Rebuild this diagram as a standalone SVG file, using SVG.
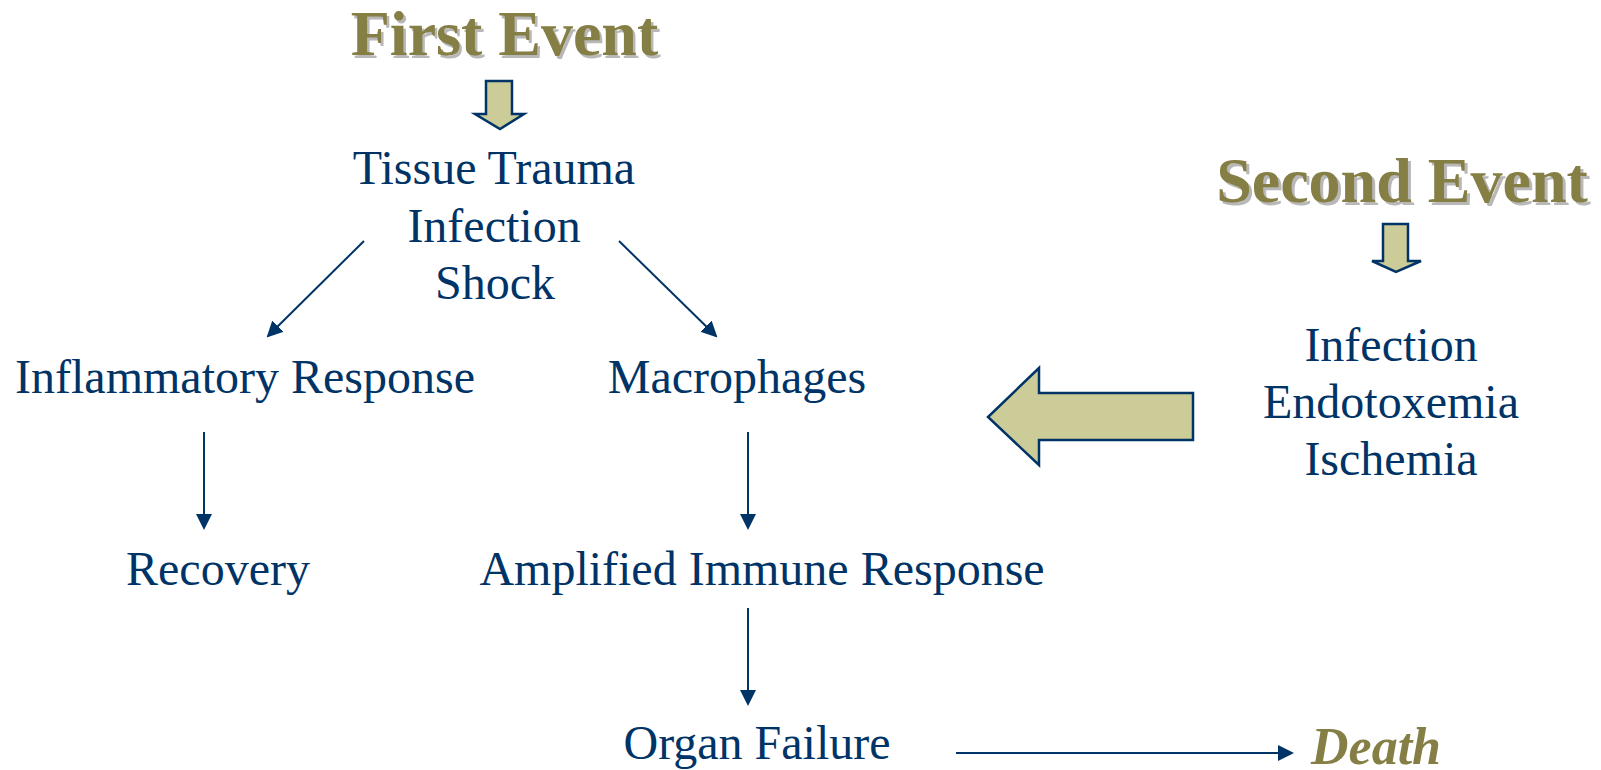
<svg xmlns="http://www.w3.org/2000/svg" width="1601" height="770" viewBox="0 0 1601 770">
<defs>
<marker id="ah" markerUnits="userSpaceOnUse" markerWidth="16" markerHeight="16" refX="14" refY="8" orient="auto" viewBox="0 0 16 16">
<path d="M0,0 L16,8 L0,16 z" fill="#003366"/>
</marker>
</defs>
<style>
.t{font-family:"Liberation Serif","Times New Roman",serif;font-size:48px;fill:#003366;text-anchor:middle}
.h{font-family:"Liberation Serif","Times New Roman",serif;font-size:64px;font-weight:bold;text-anchor:middle}
.hs{fill:#B8B8B8}
.hf{fill:#857F45}
.blk{fill:#CCCC99;stroke:#003366;stroke-width:2.5;stroke-linejoin:miter}
.c{stroke:#003366;stroke-width:2;fill:none;marker-end:url(#ah)}
</style>
<rect width="1601" height="770" fill="#FFFFFF"/>
<g id="first-event">
<text class="h hs" x="507" y="58">First Event</text>
<text class="h hf" x="504.5" y="55">First Event</text>
<path class="blk" d="M486,81 L512,81 L512,114 L524,114 L500,129 L475,114 L486,114 Z"/>
</g>
<g id="second-event">
<text class="h hs" x="1405" y="205">Second Event</text>
<text class="h hf" x="1402" y="202">Second Event</text>
<path class="blk" d="M1383,224 L1408,224 L1408,261 L1421,261 L1396,272 L1372,261 L1383,261 Z"/>
</g>
<g id="big-arrow">
<path class="blk" d="M1193,393 L1039,393 L1039,368 L988,417 L1039,465 L1039,440 L1193,440 Z"/>
</g>
<g id="trauma">
<text class="t" x="494" y="184">Tissue Trauma</text>
<text class="t" x="494" y="242">Infection</text>
<text class="t" x="495" y="299">Shock</text>
</g>
<g id="inflammatory">
<text class="t" x="245" y="393">Inflammatory Response</text>
</g>
<g id="macrophages">
<text class="t" x="737" y="393">Macrophages</text>
</g>
<g id="recovery">
<text class="t" x="218" y="585">Recovery</text>
</g>
<g id="amplified">
<text class="t" x="762" y="585">Amplified Immune Response</text>
</g>
<g id="organ-failure">
<text class="t" x="757" y="759">Organ Failure</text>
</g>
<g id="second-causes">
<text class="t" x="1391" y="361">Infection</text>
<text class="t" x="1391" y="418">Endotoxemia</text>
<text class="t" x="1391" y="475">Ischemia</text>
</g>
<g id="death">
<text x="1376" y="764" style="font-family:'Liberation Serif','Times New Roman',serif;font-size:52px;font-weight:bold;font-style:italic;fill:#857F45;text-anchor:middle">Death</text>
</g>
<g id="connectors">
<line class="c" x1="364" y1="241" x2="268" y2="336"/>
<line class="c" x1="619" y1="241" x2="716" y2="336"/>
<line class="c" x1="204" y1="432" x2="204" y2="528"/>
<line class="c" x1="748" y1="432" x2="748" y2="528"/>
<line class="c" x1="748" y1="608" x2="748" y2="704"/>
<line class="c" x1="956" y1="753" x2="1292" y2="753"/>
</g>
</svg>
